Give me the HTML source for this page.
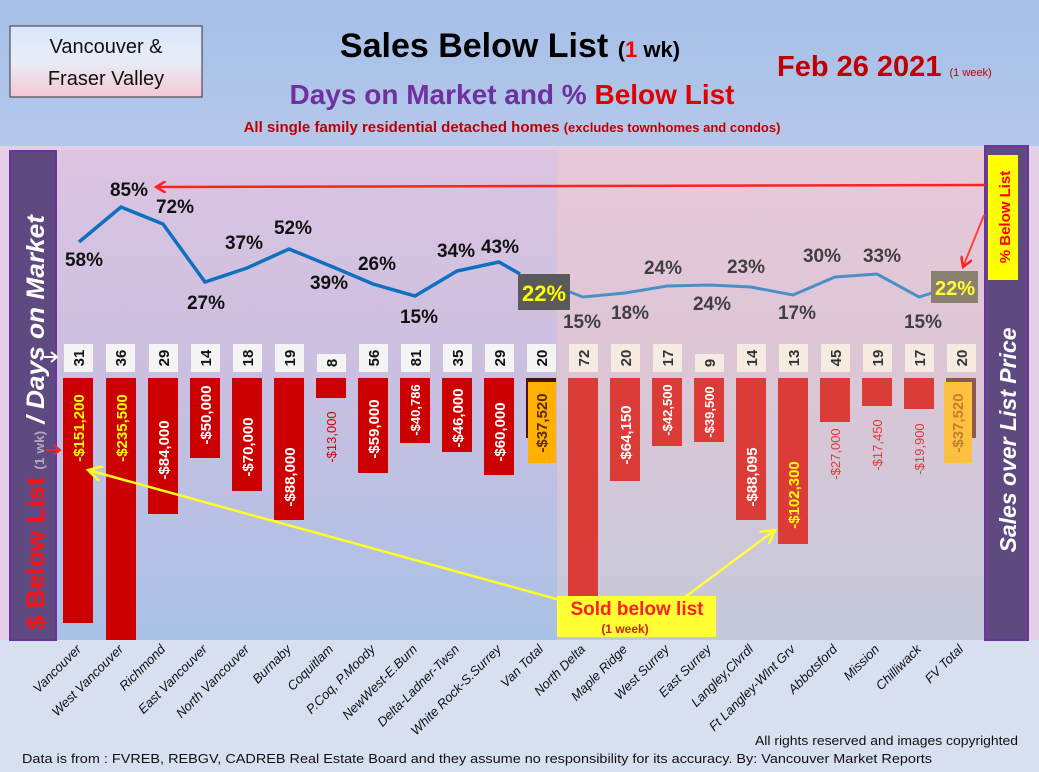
<!DOCTYPE html>
<html><head><meta charset="utf-8"><style>
html,body{margin:0;padding:0;width:1039px;height:772px;overflow:hidden}
svg{display:block;font-family:"Liberation Sans",sans-serif}
</style></head><body>
<svg width="1039" height="772" viewBox="0 0 1039 772" xmlns="http://www.w3.org/2000/svg">
<defs>
<linearGradient id="hdr" x1="0" y1="0" x2="0" y2="1"><stop offset="0" stop-color="#a6bfe8"/><stop offset="1" stop-color="#b4c8ea"/></linearGradient>
<linearGradient id="pl" x1="0" y1="0" x2="0" y2="1"><stop offset="0" stop-color="#dcc4e2"/><stop offset="0.45" stop-color="#cbbfe0"/><stop offset="1" stop-color="#a9c1e6"/></linearGradient>
<linearGradient id="pr" x1="0" y1="0" x2="0" y2="1"><stop offset="0" stop-color="#e8c8d8"/><stop offset="0.45" stop-color="#dcc6d6"/><stop offset="1" stop-color="#c4c9da"/></linearGradient>
<linearGradient id="box" x1="0" y1="0" x2="0" y2="1"><stop offset="0" stop-color="#d8e6fb"/><stop offset="0.5" stop-color="#e9ecf8"/><stop offset="1" stop-color="#f3c9d2"/></linearGradient>
<marker id="ar" markerWidth="12" markerHeight="12" refX="10" refY="6" orient="auto" markerUnits="userSpaceOnUse"><path d="M0,0 L10,6 L0,12" fill="none" stroke="#ff2020" stroke-width="2.5"/></marker>
<marker id="ay" markerWidth="16" markerHeight="16" refX="14" refY="8" orient="auto" markerUnits="userSpaceOnUse"><path d="M0,0 L14,8 L0,16" fill="none" stroke="#ffff20" stroke-width="2.5"/></marker>
</defs>
<rect width="1039" height="772" fill="#d6e0f1"/>
<rect width="1039" height="146" fill="url(#hdr)"/>
<rect x="0" y="146" width="1039" height="494" fill="#e3cfe6"/>
<rect x="57" y="150" width="500" height="490" fill="url(#pl)"/>
<rect x="557" y="150" width="428" height="490" fill="url(#pr)"/>

<rect x="10" y="26" width="192" height="71" fill="url(#box)" stroke="#333" stroke-width="1"/>
<text x="106" y="53" font-size="20" text-anchor="middle" fill="#111">Vancouver &amp;</text>
<text x="106" y="85" font-size="20" text-anchor="middle" fill="#111">Fraser Valley</text>
<text x="510" y="57" font-size="34" font-weight="bold" text-anchor="middle" fill="#000">Sales Below List <tspan font-size="22">(<tspan fill="#ff0000">1</tspan> wk)</tspan></text>
<text x="512" y="104" font-size="28" font-weight="bold" text-anchor="middle" fill="#7030a0">Days on Market and % <tspan fill="#e00000">Below List</tspan></text>
<text x="512" y="132" font-size="15" font-weight="bold" text-anchor="middle" fill="#c00000">All single family residential detached homes <tspan font-size="13">(excludes townhomes and condos)</tspan></text>
<text x="777" y="76" font-size="29" font-weight="bold" fill="#c00000">Feb 26  2021 <tspan font-size="11" font-weight="normal">(1 week)</tspan></text>

<rect x="10" y="151" width="46" height="489" fill="#5e4a80" stroke="#7030a0" stroke-width="2"/>
<text transform="translate(44,630) rotate(-90)" font-size="25" font-weight="bold" font-style="italic" fill="#fff" textLength="415" lengthAdjust="spacingAndGlyphs"><tspan fill="#ff1010" font-style="normal">$ Below List</tspan> <tspan font-size="13" fill="#b0a8b8" font-style="normal">(1 wk)</tspan> / Days on Market</text>
<path d="M44,357 L57,357 M51,352 L57,357 L51,362" stroke="#fff" stroke-width="2" fill="none"/>
<path d="M46,450 L60,450 M54,445 L60,450 L54,455" stroke="#ff2020" stroke-width="2" fill="none"/>
<rect x="985" y="146" width="43" height="494" fill="#5e4a80" stroke="#7030a0" stroke-width="2"/>
<rect x="988" y="155" width="30" height="125" fill="#ffff00"/>
<text transform="translate(1010,217) rotate(-90)" font-size="15" font-weight="bold" fill="#ff0000" text-anchor="middle">% Below List</text>
<text transform="translate(1016,440) rotate(-90)" font-size="23" font-weight="bold" font-style="italic" fill="#fff" text-anchor="middle">Sales over List Price</text>

<line x1="985" y1="185" x2="156" y2="187" stroke="#ff2020" stroke-width="2.5" marker-end="url(#ar)"/>
<line x1="984" y1="215" x2="963" y2="267" stroke="#ff4040" stroke-width="2" marker-end="url(#ar)"/>

<g fill="#cc0000">
<rect x="63" y="378" width="30" height="245"/>
<rect x="106" y="378" width="30" height="262"/>
<rect x="148" y="378" width="30" height="136"/>
<rect x="190" y="378" width="30" height="80"/>
<rect x="232" y="378" width="30" height="113"/>
<rect x="274" y="378" width="30" height="142"/>
<rect x="316" y="378" width="30" height="20"/>
<rect x="358" y="378" width="30" height="95"/>
<rect x="400" y="378" width="30" height="65"/>
<rect x="442" y="378" width="30" height="74"/>
<rect x="484" y="378" width="30" height="97"/>
</g>
<rect x="526" y="378" width="30" height="60" fill="#4a1010"/>
<rect x="528" y="382" width="28" height="81" fill="#ffb000"/>
<g fill="#dc3c38">
<rect x="568" y="378" width="30" height="222"/>
<rect x="610" y="378" width="30" height="103"/>
<rect x="652" y="378" width="30" height="68"/>
<rect x="694" y="378" width="30" height="64"/>
<rect x="736" y="378" width="30" height="142"/>
<rect x="778" y="378" width="30" height="166"/>
<rect x="820" y="378" width="30" height="44"/>
<rect x="862" y="378" width="30" height="28"/>
<rect x="904" y="378" width="30" height="31"/>
</g>
<rect x="946" y="378" width="30" height="60" fill="#8a5a50"/>
<rect x="944" y="382" width="28" height="81" fill="#ffc040"/>

<g font-size="15" font-weight="bold" text-anchor="middle">
<text transform="translate(84,428) rotate(-90)" fill="#ffff00">-$151,200</text>
<text transform="translate(127,428) rotate(-90)" fill="#ffff00">-$235,500</text>
<text transform="translate(169,450) rotate(-90)" fill="#fff">-$84,000</text>
<text transform="translate(211,415) rotate(-90)" fill="#fff">-$50,000</text>
<text transform="translate(253,447) rotate(-90)" fill="#fff">-$70,000</text>
<text transform="translate(295,477) rotate(-90)" fill="#fff">-$88,000</text>
<text transform="translate(336,437) rotate(-90)" fill="#cc0000" font-size="13" font-weight="normal">-$13,000</text>
<text transform="translate(379,429) rotate(-90)" fill="#fff">-$59,000</text>
<text transform="translate(420,410) rotate(-90)" fill="#fff" font-size="13">-$40,786</text>
<text transform="translate(463,418) rotate(-90)" fill="#fff">-$46,000</text>
<text transform="translate(505,432) rotate(-90)" fill="#fff">-$60,000</text>
<text transform="translate(547,423) rotate(-90)" fill="#5a2a00">-$37,520</text>
<text transform="translate(631,435) rotate(-90)" fill="#fff">-$64,150</text>
<text transform="translate(672,410) rotate(-90)" fill="#fff" font-size="13">-$42,500</text>
<text transform="translate(714,412) rotate(-90)" fill="#fff" font-size="13">-$39,500</text>
<text transform="translate(757,477) rotate(-90)" fill="#fff">-$88,095</text>
<text transform="translate(799,495) rotate(-90)" fill="#ffff00">-$102,300</text>
<text transform="translate(840,454) rotate(-90)" fill="#dc3c38" font-size="13" font-weight="normal">-$27,000</text>
<text transform="translate(882,445) rotate(-90)" fill="#dc3c38" font-size="13" font-weight="normal">-$17,450</text>
<text transform="translate(924,449) rotate(-90)" fill="#dc3c38" font-size="13" font-weight="normal">-$19,900</text>
<text transform="translate(963,423) rotate(-90)" fill="#c08030">-$37,520</text>
</g>

<g fill="#f4f4f4">
<rect x="64" y="344" width="29" height="28"/><rect x="106" y="344" width="29" height="28"/><rect x="149" y="344" width="29" height="28"/>
<rect x="191" y="344" width="29" height="28"/><rect x="233" y="344" width="29" height="28"/><rect x="275" y="344" width="29" height="28"/>
<rect x="317" y="354" width="29" height="18"/><rect x="359" y="344" width="29" height="28"/><rect x="401" y="344" width="29" height="28"/>
<rect x="443" y="344" width="29" height="28"/><rect x="485" y="344" width="29" height="28"/><rect x="527" y="344" width="29" height="28"/>
</g>
<g fill="#f6ebe0">
<rect x="569" y="344" width="29" height="28"/><rect x="611" y="344" width="29" height="28"/><rect x="653" y="344" width="29" height="28"/>
<rect x="695" y="354" width="29" height="18"/><rect x="737" y="344" width="29" height="28"/><rect x="779" y="344" width="29" height="28"/>
<rect x="821" y="344" width="29" height="28"/><rect x="863" y="344" width="29" height="28"/><rect x="905" y="344" width="29" height="28"/>
<rect x="947" y="344" width="29" height="28"/>
</g>
<g font-size="15" font-weight="bold" text-anchor="middle" fill="#111">
<text transform="translate(84,358) rotate(-90)">31</text><text transform="translate(126,358) rotate(-90)">36</text><text transform="translate(169,358) rotate(-90)">29</text>
<text transform="translate(211,358) rotate(-90)">14</text><text transform="translate(253,358) rotate(-90)">18</text><text transform="translate(295,358) rotate(-90)">19</text>
<text transform="translate(337,363) rotate(-90)">8</text><text transform="translate(379,358) rotate(-90)">56</text><text transform="translate(421,358) rotate(-90)">81</text>
<text transform="translate(463,358) rotate(-90)">35</text><text transform="translate(505,358) rotate(-90)">29</text><text transform="translate(547,358) rotate(-90)">20</text>
</g>
<g font-size="15" font-weight="bold" text-anchor="middle" fill="#333">
<text transform="translate(589,358) rotate(-90)">72</text><text transform="translate(631,358) rotate(-90)">20</text><text transform="translate(673,358) rotate(-90)">17</text>
<text transform="translate(715,363) rotate(-90)">9</text><text transform="translate(757,358) rotate(-90)">14</text><text transform="translate(799,358) rotate(-90)">13</text>
<text transform="translate(841,358) rotate(-90)">45</text><text transform="translate(883,358) rotate(-90)">19</text><text transform="translate(925,358) rotate(-90)">17</text>
<text transform="translate(967,358) rotate(-90)">20</text>
</g>

<polyline points="79,242 121,207 163,224 205,282 247,268 289,249 333,267 373,284 415,296 457,271 499,262 520,274" fill="none" stroke="#1070c0" stroke-width="3.5"/>
<polyline points="570,292 583,297 625,293 667,286 709,285 751,287 793,295 835,277 877,274 919,297 932,293" fill="none" stroke="#4a90c8" stroke-width="3"/>

<g font-size="19" font-weight="bold" text-anchor="middle" fill="#111">
<text x="84" y="266">58%</text><text x="129" y="196">85%</text><text x="175" y="213">72%</text>
<text x="206" y="309">27%</text><text x="244" y="249">37%</text><text x="293" y="234">52%</text>
<text x="329" y="289">39%</text><text x="377" y="270">26%</text><text x="419" y="323">15%</text>
<text x="456" y="257">34%</text><text x="500" y="253">43%</text>
</g>
<g font-size="19" font-weight="bold" text-anchor="middle" fill="#404040">
<text x="582" y="328">15%</text><text x="630" y="319">18%</text><text x="663" y="274">24%</text>
<text x="712" y="310">24%</text><text x="746" y="273">23%</text><text x="797" y="319">17%</text>
<text x="822" y="262">30%</text><text x="882" y="262">33%</text><text x="923" y="328">15%</text>
</g>
<rect x="518" y="274" width="52" height="36" fill="#5a5a5a"/>
<text x="544" y="301" font-size="22" font-weight="bold" text-anchor="middle" fill="#ffff00">22%</text>
<rect x="931" y="271" width="47" height="32" fill="#8a8070"/>
<text x="955" y="295" font-size="20" font-weight="bold" text-anchor="middle" fill="#ffff30">22%</text>

<line x1="560" y1="600" x2="88" y2="470" stroke="#ffff20" stroke-width="2.5" marker-end="url(#ay)"/>
<line x1="685" y1="597" x2="775" y2="530" stroke="#ffff40" stroke-width="2.5" marker-end="url(#ay)"/>
<rect x="557" y="596" width="159" height="41" fill="#ffff33"/>
<text x="637" y="615" font-size="19" font-weight="bold" text-anchor="middle" fill="#ff2020">Sold below list</text>
<text x="625" y="633" font-size="12" font-weight="bold" text-anchor="middle" fill="#d02020">(1 week)</text>

<g font-size="13" font-style="italic" text-anchor="end" fill="#111">
<text transform="translate(82,650) rotate(-45)">Vancouver</text>
<text transform="translate(124,650) rotate(-45)">West Vancouver</text>
<text transform="translate(166,650) rotate(-45)">Richmond</text>
<text transform="translate(208,650) rotate(-45)">East Vancouver</text>
<text transform="translate(250,650) rotate(-45)">North Vancouver</text>
<text transform="translate(292,650) rotate(-45)">Burnaby</text>
<text transform="translate(334,650) rotate(-45)">Coquitlam</text>
<text transform="translate(376,650) rotate(-45)">P.Coq, P.Moody</text>
<text transform="translate(418,650) rotate(-45)">NewWest-E.Burn</text>
<text transform="translate(460,650) rotate(-45)">Delta-Ladner-Twsn</text>
<text transform="translate(502,650) rotate(-45)">White Rock-S.Surrey</text>
<text transform="translate(544,650) rotate(-45)">Van Total</text>
<text transform="translate(586,650) rotate(-45)">North Delta</text>
<text transform="translate(628,650) rotate(-45)">Maple Ridge</text>
<text transform="translate(670,650) rotate(-45)">West Surrey</text>
<text transform="translate(712,650) rotate(-45)">East Surrey</text>
<text transform="translate(754,650) rotate(-45)">Langley,Clvrdl</text>
<text transform="translate(796,650) rotate(-45)">Ft Langley-Wlnt Grv</text>
<text transform="translate(838,650) rotate(-45)">Abbotsford</text>
<text transform="translate(880,650) rotate(-45)">Mission</text>
<text transform="translate(922,650) rotate(-45)">Chilliwack</text>
<text transform="translate(964,650) rotate(-45)">FV Total</text>
</g>
<text x="755" y="745" font-size="13" fill="#111" textLength="263" lengthAdjust="spacingAndGlyphs">All rights reserved and  images copyrighted</text>
<text x="22" y="763" font-size="13" fill="#111" textLength="910" lengthAdjust="spacingAndGlyphs">Data is from : FVREB, REBGV, CADREB Real Estate Board and they assume no responsibility for its accuracy. By: Vancouver Market Reports</text>
</svg>
</body></html>
